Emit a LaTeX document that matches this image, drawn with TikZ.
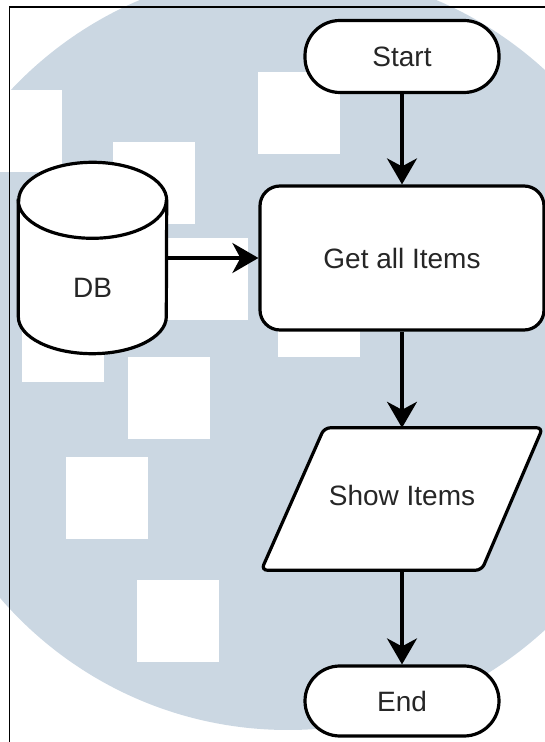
\documentclass[tikz,border=0pt]{standalone}
\usepackage{fontspec}
\setmainfont{Liberation Sans}
\usetikzlibrary{arrows.meta}
\definecolor{wasserblau}{RGB}{203,215,226}
\begin{document}
\begin{tikzpicture}[x=1pt,y=1pt,
    kasten/.style={draw, line width=3.2pt, fill=white, text=black!85,
      font=\fontsize{28pt}{32pt}\selectfont, inner sep=0pt},
    stadion/.style={kasten, rectangle, rounded corners=35pt,
      minimum width=194pt, minimum height=72pt},
    leer/.style={inner sep=0pt, text=black!85, font=\fontsize{28pt}{32pt}\selectfont},
    pfeil/.style={line width=3.2pt, -{Stealth[length=26pt,width=30pt,inset=8pt]}}]
  \useasboundingbox (0,0) rectangle (545,742);

  % Hintergrund (Wasserzeichen)
  \begin{scope}
    \clip (0,0) rectangle (545,742);
    \fill[wasserblau] (288,392) circle[radius=380];
    \foreach \x/\y in {258/670, -20/652, 113/600, 166/504, 278/467,
                       22/442, 128/385, 66/285, 137/162}
      \fill[white] (\x,\y) rectangle ++(82,-82);
  \end{scope}

  % Rahmen
  \draw[line width=1.4pt] (9.5,0) -- (9.5,735) -- (545,735);

  % Knoten
  \node[stadion] (start) at (402,685.5) {Start};
  \node[kasten, rectangle, rounded corners=20pt,
        minimum width=284pt, minimum height=144pt] (get) at (402,484) {Get all Items};
  \node[leer, minimum width=281pt, minimum height=142pt] (show) at (402,243) {};
  \node[stadion, minimum height=70pt] (end) at (402,41) {End};
  \node[leer, minimum width=148pt, minimum height=191pt] (db) at (92.5,484) {};

  % Datenbank (Zylinder)
  \draw[line width=3.2pt, fill=white]
    ([yshift=-38pt]db.north west) -- ([yshift=37pt]db.south west)
    arc[start angle=180, end angle=360, x radius=74pt, y radius=37pt]
    -- ([yshift=-38pt]db.north east)
    arc[start angle=0, end angle=180, x radius=74pt, y radius=38pt] -- cycle;
  \draw[line width=3.2pt] ([yshift=-38pt]db.north west)
    arc[start angle=180, end angle=360, x radius=74pt, y radius=38pt];
  \node[leer] (dbtext) at ([yshift=-30pt]db.center) {DB};

  % Ausgabe (Parallelogramm)
  \draw[line width=3.2pt, fill=white, rounded corners=6pt]
    ([xshift=63pt]show.north west) -- (show.north east)
    -- ([xshift=-61pt]show.south east) -- (show.south west) -- cycle;
  \node[leer] (showtext) at ([yshift=4pt]show.center) {Show Items};

  % Pfeile
  \draw[pfeil] (start) -- (get);
  \draw[pfeil] (db.east) -- (get.west);
  \draw[pfeil] (get) -- (show.north);
  \draw[pfeil] (show.south) -- (end);
\end{tikzpicture}
\end{document}
